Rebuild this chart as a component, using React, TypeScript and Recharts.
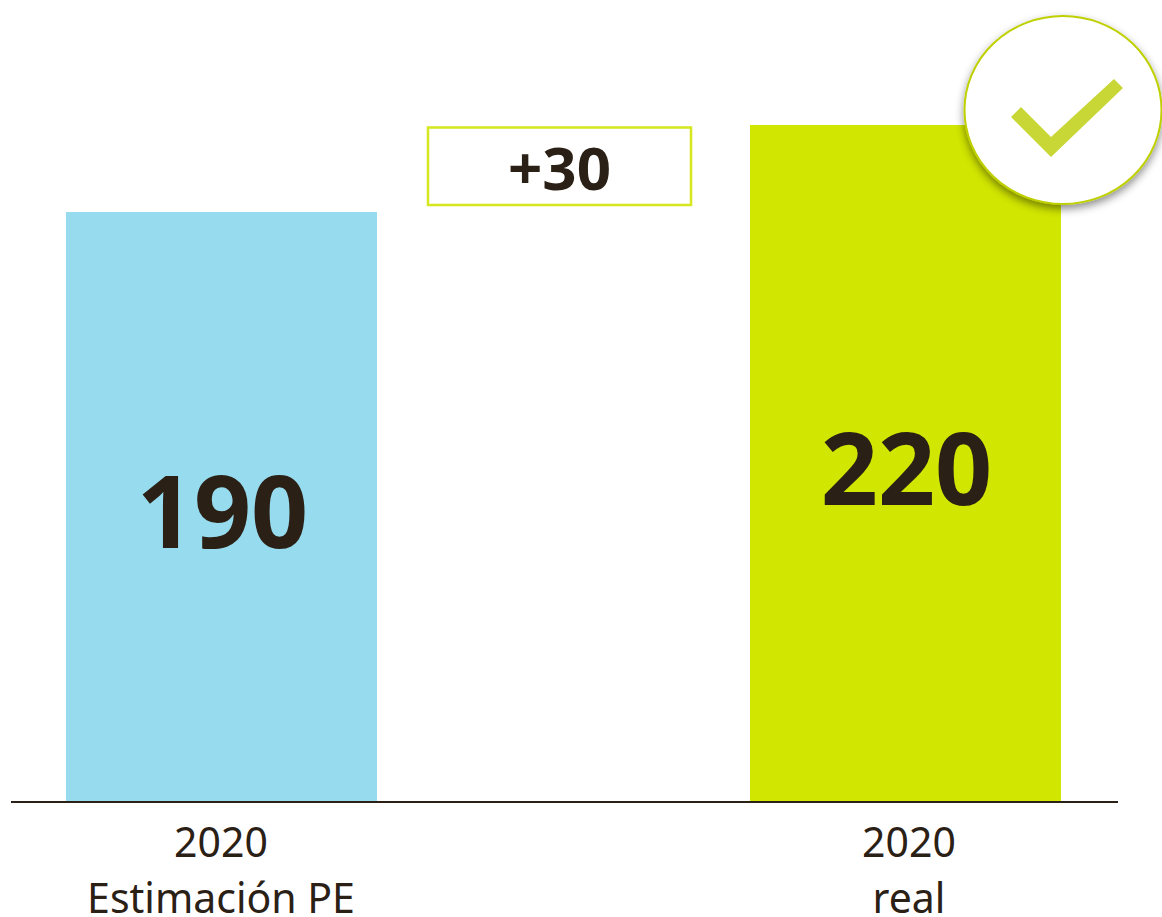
import { Bar, BarChart, Cell, LabelList, XAxis, YAxis } from 'recharts'

const categories = ['est', 'gap', 'real']
const tickLine1 = ['2020', '', '2020']
const tickLine2 = ['Estimación PE', '', 'real']
// bar heights as drawn in the picture, the printed labels are separate
const barValues = [191.7, null, 220]
const barLabels = ['190', '', '220']
const barColors = ['#97dbef', '#ffffff', '#d1e600']
const deltaLabel = '+30'

const data = categories.map((name, i) => ({ name, value: barValues[i], label: barLabels[i] }))

const FONT = '"Noto Sans", sans-serif'
const INK = '#2b2015'

function Tick({ x, y, index }: any) {
  // the right label sits a little off its bar's centre in the original
  const tx = index === 2 ? x + 4 : x
  return (
    <g fontFamily={FONT} fontSize={41} fill={INK} textAnchor="middle">
      <text x={tx} y={y + 47}>{tickLine1[index]}</text>
      <text x={tx} y={y + 103}>{tickLine2[index]}</text>
    </g>
  )
}

function ValueLabel({ x, y, width, height, value }: any) {
  return (
    <text
      x={x + width / 2 + 1}
      y={y + height / 2 + 41}
      textAnchor="middle"
      fontFamily={FONT}
      fontWeight={700}
      fontSize={100}
      fill={INK}
    >
      {value}
    </text>
  )
}

export default function App() {
  return (
    <div style={{ position: 'absolute', left: 0, top: 0, width: 1162, height: 917, overflow: 'hidden', background: '#fff' }}>
      <BarChart
        width={1162}
        height={917}
        data={data}
        barCategoryGap={0}
        margin={{ top: 125, right: 44, bottom: 0, left: 11 }}
      >
        <XAxis
          dataKey="name"
          height={115}
          interval={0}
          padding={{ left: 39, right: 42 }}
          axisLine={{ stroke: INK, strokeWidth: 2 }}
          tickLine={false}
          tick={<Tick />}
        />
        <YAxis hide domain={[0, 220]} />
        <Bar dataKey="value" barSize={311} isAnimationActive={false}>
          {data.map((d, i) => (
            <Cell key={d.name} fill={barColors[i]} />
          ))}
          <LabelList dataKey="label" content={<ValueLabel />} />
        </Bar>
        <rect x={428} y={127.5} width={263} height={77.5} fill="#fff" stroke="#d5e71e" strokeWidth={2.5} />
        <text x={559.5} y={190} textAnchor="middle" fontFamily={FONT} fontWeight={700} fontSize={60} fill={INK}>
          {deltaLabel}
        </text>
      </BarChart>
      {/* badge sits above the bars, the chart's own layers would paint it underneath */}
      <svg width={1162} height={917} style={{ position: 'absolute', left: 0, top: 0, pointerEvents: 'none' }}>
        <defs>
          <filter id="badgeShadow" x="-20%" y="-20%" width="140%" height="140%">
            <feDropShadow dx="0" dy="4" stdDeviation="4" floodColor="#000" floodOpacity="0.45" />
          </filter>
        </defs>
        <ellipse cx={1063} cy={110} rx={98.5} ry={94} fill="#fff" stroke="#bfd000" strokeWidth={2} filter="url(#badgeShadow)" />
        <polygon points="1021,107 1051,137 1114,79 1123,88 1051,157 1011,117" fill="#c8d636" />
      </svg>
    </div>
  )
}
